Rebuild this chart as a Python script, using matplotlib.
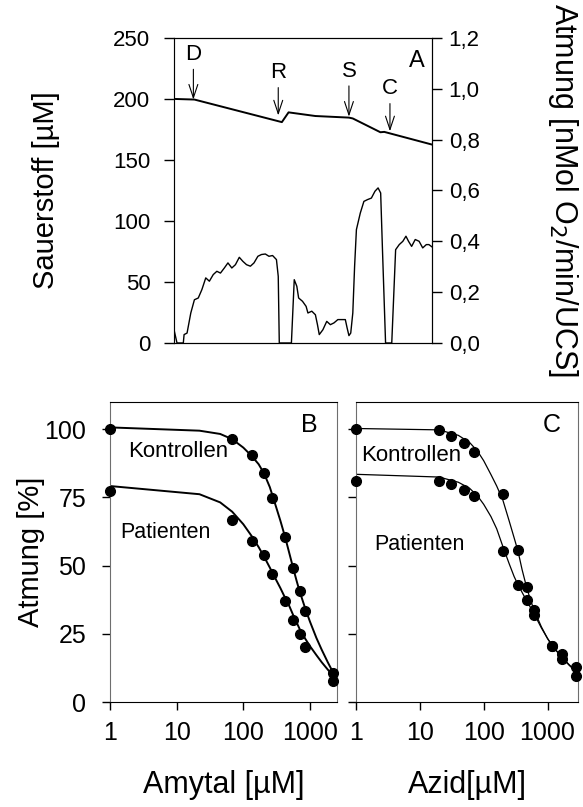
import numpy as np
import matplotlib.pyplot as plt
from matplotlib.ticker import FixedLocator, FuncFormatter, NullLocator

plt.rcParams["font.family"] = ["Liberation Sans", "DejaVu Sans"]

# --- panel A: oxygen trace and respiration rate over time (arbitrary time units) ---
o2_t = [0, 7.9, 41.8, 44.4, 54.8, 67.8, 69.3, 80.0, 81.5, 100]
o2_val = [200, 199.5, 181, 189, 186, 184.7, 184, 172.7, 173, 162.6]

resp_t = [0, 1.15, 3.6, 3.9, 5.05, 6.5, 7.9, 9.4, 10.8, 12.3, 13.7, 15.2, 16.6,
          18.0, 19.5, 20.9, 22.4, 23.8, 25.3, 26.7, 28.1, 29.6, 31.0, 32.5,
          33.9, 35.4, 36.8, 38.2, 39.7, 40.4, 40.8, 45.5, 46.6, 47.6, 48.3,
          49.8, 51.2, 51.9, 53.4, 54.8, 55.6, 56.3, 57.7, 59.2, 60.6, 62.0,
          63.5, 64.9, 66.4, 67.1, 67.8, 68.5, 69.3, 70.0, 70.7, 72.2, 73.6,
          75.0, 76.5, 77.9, 79.1, 80.1, 80.8, 82.0, 84.4, 85.9, 87.3, 88.7,
          89.9, 90.9, 92.1, 93.5, 95.0, 96.4, 97.8, 98.8, 100]
resp_val = [0.052, 0, 0, 0.033, 0.039, 0.118, 0.170, 0.177, 0.210, 0.256,
            0.243, 0.269, 0.282, 0.275, 0.295, 0.315, 0.295, 0.308, 0.337,
            0.321, 0.308, 0.302, 0.315, 0.341, 0.348, 0.350, 0.341, 0.344,
            0.328, 0.262, 0, 0, 0.249, 0.223, 0.177, 0.164, 0.144, 0.118,
            0.125, 0.111, 0.072, 0.033, 0.052, 0.085, 0.072, 0.079, 0.092,
            0.092, 0.092, 0.059, 0.029, 0.039, 0.118, 0.302, 0.446, 0.511,
            0.557, 0.564, 0.570, 0.597, 0.610, 0.590, 0.367, 0, 0, 0.367,
            0.387, 0.400, 0.420, 0.400, 0.380, 0.407, 0.400, 0.374, 0.387,
            0.387, 0.378]

# additions: label, time, label height, arrow tip (oxygen scale)
add_labels = ["D", "R", "S", "C"]
add_t = [7.5, 40.4, 67.8, 83.7]
add_text_y = [236.3, 221.3, 222.7, 208.2]
add_tip_y = [199.5, 186.5, 185.5, 173.5]

# --- panel B: Amytal titration ---
amy_x = [1, 68, 134, 205, 271, 424, 562, 699, 847, 2240]
amy_ctrl = [100, 96.4, 90.6, 84.0, 74.8, 60.5, 49.0, 40.8, 33.5, 10.7]
amy_pat = [77.3, 66.8, 58.9, 53.8, 47.1, 37.1, 30.1, 25.0, 20.0, 7.7]
amy_fit_x = [1, 22, 45, 68, 100, 134, 170, 205, 250, 300, 360, 424, 490,
             562, 630, 700, 850, 1000, 1250, 1500, 1850, 2240]
amy_fit_ctrl = [100.7, 99.5, 98.3, 96.4, 93.3, 90.2, 87.2, 83.8, 78.8, 72.7,
                66.5, 60.5, 54.6, 49.0, 44.5, 40.6, 34.3, 29.5, 23.5, 19.2,
                14.6, 10.7]
amy_fit_pat = [79.2, 76.2, 73.2, 69.8, 65.2, 60.8, 56.8, 53.3, 49.3, 45.5,
               41.8, 38.2, 35.2, 31.8, 29.2, 26.8, 23.2, 20.5, 17.2, 14.6,
               11.9, 9.6]

# --- panel C: Azid titration ---
azi_x = [1, 20, 30.6, 50, 71, 201, 345, 471, 608, 1160, 1690, 2780]
azi_ctrl = [100, 99.6, 97.6, 95.0, 91.5, 76.3, 55.7, 42.0, 33.8, 20.7, 17.7, 12.7]
azi_pat = [81.2, 81.2, 79.8, 77.8, 75.7, 55.4, 42.9, 37.4, 32.0, 20.4, 15.6, 9.4]
azi_fit_x = [1, 20, 40, 60, 80, 100, 130, 160, 200, 250, 300, 345, 400,
             471, 540, 608, 800, 1000, 1160, 1400, 1690, 2200, 2780]
azi_fit_ctrl = [100.3, 99.8, 97.8, 95.2, 92.0, 88.5, 83.4, 79.2, 74.0, 66.5,
                60.2, 55.3, 48.5, 42.0, 37.5, 34.0, 27.6, 23.3, 21.0, 18.6,
                16.2, 13.4, 11.2]
azi_fit_pat = [83.5, 82.5, 80.6, 78.4, 75.6, 72.5, 68.0, 63.5, 57.0, 50.8,
               46.0, 43.0, 40.2, 37.1, 34.7, 32.6, 27.2, 23.3, 21.0, 18.6,
               16.4, 13.6, 11.4]

pct_ticks = [0, 25, 50, 75, 100]
dec_ticks = [1, 10, 100, 1000]

fig = plt.figure(figsize=(5.83, 8.07), dpi=100)
spine_grey = "#6e6e6e"

#########################################
### Panel A
#########################################
axA = fig.add_axes([0.2985, 0.575, 0.4425, 0.378])
axA.plot(o2_t, o2_val, color="black", lw=1.4)
axA.set_xlim(0, 100)
axA.set_ylim(0, 250)
axA.set_yticks([0, 50, 100, 150, 200, 250])
axA.xaxis.set_major_locator(NullLocator())
axA.tick_params(axis="y", direction="out", length=7, width=1, labelsize=16, pad=10)
axA.spines["left"].set_color(spine_grey)
axA.set_ylabel("Sauerstoff [µM]", fontsize=21, labelpad=38)
for lab, t, ty, tip in zip(add_labels, add_t, add_text_y, add_tip_y):
    axA.annotate(lab, xy=(t, tip), xytext=(t, ty), ha="center", va="center",
                 fontsize=16,
                 arrowprops=dict(arrowstyle="->,head_length=0.6,head_width=0.2",
                                 lw=0.8, color="black", shrinkA=1, shrinkB=0))
axA.text(0.94, 0.925, "A", transform=axA.transAxes, ha="center", va="center",
         fontsize=17)

axA2 = axA.twinx()
axA2.plot(resp_t, resp_val, color="black", lw=1.0)
axA2.set_ylim(0, 1.2)
axA2.set_yticks([0, 0.2, 0.4, 0.6, 0.8, 1.0, 1.2])
axA2.yaxis.set_major_formatter(FuncFormatter(lambda v, p: f"{v:.1f}".replace(".", ",")))
axA2.tick_params(axis="y", direction="out", length=7, width=1, labelsize=16, pad=5)
axA2.set_ylabel("Atmung [nMol O$_2$/min/UCS]", fontsize=22, rotation=270,
                labelpad=72)

#########################################
### Panels B and C
#########################################
axB = fig.add_axes([0.1887, 0.1301, 0.3894, 0.3717])
axC = fig.add_axes([0.6106, 0.1301, 0.3808, 0.3717])

panels = [
    (axB, amy_x, amy_ctrl, amy_pat, amy_fit_x, amy_fit_ctrl, amy_fit_pat,
     2550, 1.4, "B", "Amytal [µM]", (10.4, 91.9), (6.7, 62.3)),
    (axC, azi_x, azi_ctrl, azi_pat, azi_fit_x, azi_fit_ctrl, azi_fit_pat,
     3000, 0.9, "C", "Azid[µM]", (7.2, 90.3), (9.7, 57.8)),
]
for (ax, x, yc, yp, fx, fc, fp, xmax, lw, letter, xlabel, kpos, ppos) in panels:
    ax.plot(fx, fc, color="black", lw=lw, zorder=2)
    ax.plot(fx, fp, color="black", lw=lw, zorder=2)
    ax.plot(x, yc, "o", color="black", ms=7, clip_on=False, zorder=3)
    ax.plot(x, yp, "o", color="black", ms=7, clip_on=False, zorder=3)
    ax.set_xscale("log")
    ax.set_xlim(1, xmax)
    ax.set_ylim(0, 110)
    ax.xaxis.set_major_locator(FixedLocator(dec_ticks))
    ax.xaxis.set_minor_locator(NullLocator())
    ax.xaxis.set_major_formatter(FuncFormatter(lambda v, p: f"{v:g}"))
    ax.set_yticks(pct_ticks)
    ax.tick_params(direction="out", length=6, width=1, labelsize=18)
    ax.tick_params(axis="x", pad=8)
    ax.tick_params(axis="y", pad=11)
    ax.spines["left"].set_color(spine_grey)
    ax.spines["right"].set_color(spine_grey)
    ax.set_xlabel(xlabel, fontsize=22, labelpad=18)
    ax.text(0.88, 0.925, letter, transform=ax.transAxes, ha="center",
            va="center", fontsize=18)
    ax.text(kpos[0], kpos[1], "Kontrollen", ha="center", va="center", fontsize=16)
    ax.text(ppos[0], ppos[1], "Patienten", ha="center", va="center", fontsize=15.5)

axB.set_ylabel("Atmung [%]", fontsize=21, labelpad=0)
axC.tick_params(axis="y", labelleft=False)

fig.savefig("out.png", dpi=100)
